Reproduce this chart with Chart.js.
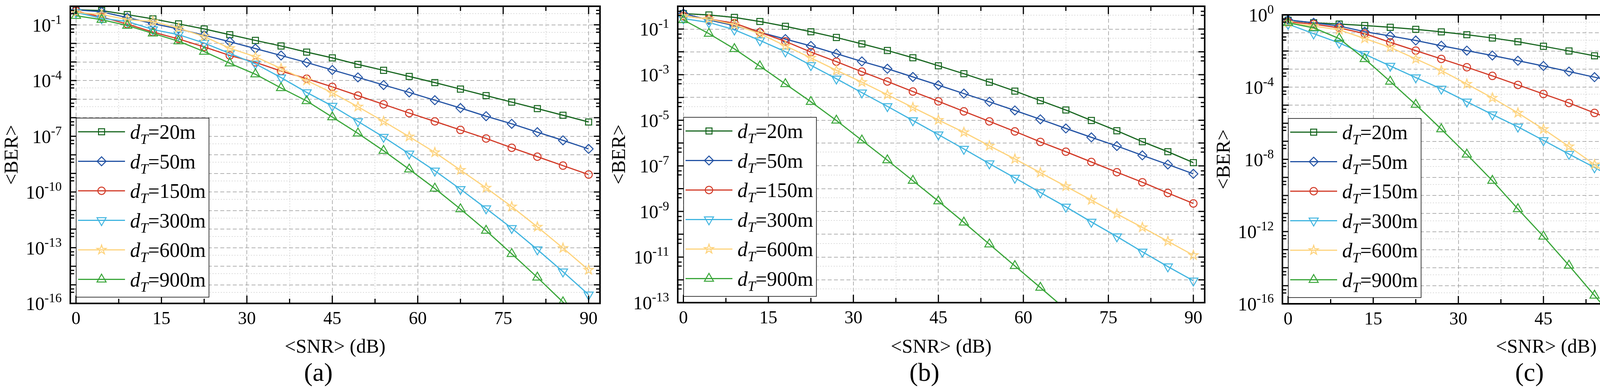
<!DOCTYPE html>
<html>
<head>
<meta charset="utf-8">
<script src="https://cdn.jsdelivr.net/npm/chart.js@4.4.1/dist/chart.umd.min.js"></script>
<style>
  html, body { margin: 0; padding: 0; background: #fff; }
  body { width: 4650px; height: 1000px; position: relative; overflow: hidden; }
  canvas { position: absolute; top: 0; }
</style>
</head>
<body>
<canvas id="panelA" width="1560" height="1000" style="left:0px"></canvas>
<canvas id="panelB" width="1555" height="1000" style="left:1555px"></canvas>
<canvas id="panelC" width="1547" height="1000" style="left:3103px"></canvas>
<script>
// <SNR> in dB, same grid for all panels
const snr = [0, 4.5, 9, 13.5, 18, 22.5, 27, 31.5, 36, 40.5, 45, 49.5, 54, 58.5, 63, 67.5, 72, 76.5, 81, 85.5, 90];
const distances = [20, 50, 150, 300, 600, 900];
const xTickLabels = [0, 15, 30, 45, 60, 75, 90];

// log10(<BER>), panel (a)
const a20  = [-0.19, -0.23, -0.45, -0.68, -0.95, -1.22, -1.53, -1.84, -2.14, -2.47, -2.78, -3.13, -3.45, -3.78, -4.11, -4.46, -4.81, -5.16, -5.51, -5.87, -6.23];
const a50  = [-0.19, -0.30, -0.61, -0.93, -1.22, -1.56, -1.91, -2.28, -2.65, -3.03, -3.43, -3.83, -4.24, -4.64, -5.06, -5.48, -5.92, -6.33, -6.78, -7.22, -7.68];
const a150 = [-0.26, -0.58, -0.96, -1.39, -1.76, -2.19, -2.65, -3.02, -3.49, -3.90, -4.34, -4.81, -5.28, -5.75, -6.20, -6.66, -7.12, -7.62, -8.10, -8.58, -9.06];
const a300 = [-0.33, -0.65, -0.82, -1.25, -1.53, -1.98, -2.54, -3.10, -3.84, -4.64, -5.37, -6.20, -7.04, -7.94, -8.86, -9.85, -10.89, -11.95, -13.10, -14.29, -15.53];
const a600 = [-0.33, -0.44, -0.72, -0.82, -1.18, -1.63, -2.26, -2.72, -3.35, -4.00, -4.66, -5.41, -6.20, -7.02, -7.87, -8.82, -9.78, -10.79, -11.88, -13.02, -14.20];
const a900 = [-0.51, -0.72, -1.04, -1.46, -1.88, -2.44, -3.07, -3.66, -4.40, -5.10, -5.97, -6.84, -7.78, -8.78, -9.81, -10.92, -12.08, -13.33, -14.60, -15.93, -17.30];

// panel (b)
const b20  = [-0.32, -0.38, -0.49, -0.67, -0.88, -1.12, -1.37, -1.65, -1.94, -2.26, -2.61, -2.96, -3.33, -3.72, -4.14, -4.55, -5.01, -5.46, -5.94, -6.38, -6.86];
const b50  = [-0.32, -0.60, -0.85, -1.14, -1.44, -1.74, -2.08, -2.42, -2.74, -3.10, -3.46, -3.83, -4.19, -4.57, -4.96, -5.36, -5.75, -6.13, -6.54, -6.94, -7.35];
const b150 = [-0.43, -0.56, -0.74, -1.14, -1.54, -2.01, -2.43, -2.87, -3.30, -3.74, -4.17, -4.61, -5.05, -5.49, -5.95, -6.38, -6.83, -7.28, -7.72, -8.19, -8.65];
const b300 = [-0.54, -0.71, -1.03, -1.50, -1.99, -2.59, -3.18, -3.79, -4.39, -5.01, -5.63, -6.26, -6.90, -7.53, -8.17, -8.80, -9.46, -10.10, -10.77, -11.42, -12.04];
const b600 = [-0.43, -0.56, -0.81, -1.20, -1.74, -2.26, -2.81, -3.33, -3.88, -4.44, -4.99, -5.53, -6.12, -6.70, -7.30, -7.90, -8.50, -9.11, -9.70, -10.31, -10.92];
const b900 = [-0.60, -1.20, -1.87, -2.63, -3.41, -4.19, -5.01, -5.88, -6.75, -7.65, -8.55, -9.48, -10.44, -11.39, -12.34, -13.30, null, null, null, null, null];

// panel (c)
const c20  = [-0.30, -0.44, -0.51, -0.59, -0.69, -0.80, -0.94, -1.10, -1.28, -1.49, -1.74, -2.00, -2.27, -2.57, -2.89, -3.22, -3.59, -3.98, -4.38, -4.79, -5.23];
const c50  = [-0.28, -0.44, -0.62, -0.93, -1.17, -1.42, -1.71, -1.98, -2.25, -2.54, -2.83, -3.14, -3.45, -3.76, -4.07, -4.39, -4.70, -5.01, -5.35, -5.69, -6.01];
const c150 = [-0.39, -0.51, -0.72, -1.04, -1.52, -1.98, -2.44, -2.90, -3.38, -3.88, -4.38, -4.88, -5.43, -5.95, -6.49, -7.04, -7.60, -8.16, -8.73, -9.31, -9.89];
const c300 = [-0.51, -1.04, -1.55, -2.18, -2.83, -3.47, -4.10, -4.81, -5.52, -6.20, -6.95, -7.71, -8.45, -9.23, -9.99, -10.77, -11.56, -12.36, -13.18, -14.01, -14.85];
const c600 = [-0.44, -0.62, -0.83, -1.31, -1.80, -2.44, -3.08, -3.83, -4.60, -5.43, -6.33, -7.29, -8.29, -9.32, -10.43, -11.57, -12.82, -14.09, -15.40, -17.00, null];
const c900 = [-0.44, -0.72, -1.31, -2.44, -3.69, -4.97, -6.33, -7.73, -9.18, -10.75, -12.27, -13.88, -15.54, -17.20, null, null, null, null, null, null, null];

// labelled decades on each y axis
const yLabelExpA = [-1, -4, -7, -10, -13, -16];
const yLabelExpB = [-1, -3, -5, -7, -9, -11, -13];
const yLabelExpC = [0, -4, -8, -12, -16];

const FONT = '"Liberation Serif", "Times New Roman", serif';
const lineColors = ['#17661f', '#2353a4', '#d23a27', '#41b5e0', '#fed37c', '#3aa63a'];

function makeStar(color) {
  const c = document.createElement('canvas');
  c.width = c.height = 34;
  const g = c.getContext('2d');
  g.strokeStyle = color;
  g.lineWidth = 2.5;
  g.beginPath();
  for (let k = 0; k < 10; k++) {
    const rr = k % 2 ? 4.8 : 12.5;
    const ang = -Math.PI / 2 + k * Math.PI / 5;
    const px = 17 + rr * Math.cos(ang), py = 17 + rr * Math.sin(ang);
    if (k) g.lineTo(px, py); else g.moveTo(px, py);
  }
  g.closePath();
  g.stroke();
  return c;
}

const markers = [
  { style: 'rect', r: 11, rot: 0 },
  { style: 'rectRot', r: 11.5, rot: 0 },
  { style: 'circle', r: 9.5, rot: 0 },
  { style: 'triangle', r: 13.5, rot: 180 },
  { style: makeStar(lineColors[4]), r: 11, rot: 0 },
  { style: 'triangle', r: 13.5, rot: 0 }
];

function decadeTicks(minExp) {
  const t = [];
  for (let e = minExp; e <= 0; e++) {
    t.push({ value: parseFloat('1e' + e), kind: 'major', exp: e });
    if (e < 0) {
      t.push({ value: 4 * parseFloat('1e' + e), kind: 'dot', exp: e });
      t.push({ value: 6 * parseFloat('1e' + e), kind: 'minor', exp: e });
    }
  }
  return t;
}

function xTicks() {
  const t = [];
  for (let v = 0; v <= 90; v += 7.5) t.push({ value: v });
  return t;
}

function drawMarker(ctx, ds, x, y) {
  const st = ds.pointStyle, r = ds.pointRadius;
  ctx.save();
  ctx.translate(x, y);
  if (st instanceof HTMLCanvasElement) {
    ctx.drawImage(st, -st.width / 2, -st.height / 2);
    ctx.restore();
    return;
  }
  ctx.rotate((ds.pointRotation || 0) * Math.PI / 180);
  ctx.strokeStyle = ds.pointBorderColor;
  ctx.lineWidth = ds.pointBorderWidth;
  ctx.beginPath();
  if (st === 'circle') ctx.arc(0, 0, r, 0, Math.PI * 2);
  else if (st === 'rect') { const s = r * Math.SQRT1_2; ctx.rect(-s, -s, 2 * s, 2 * s); }
  else if (st === 'rectRot') { ctx.moveTo(0, -r); ctx.lineTo(r, 0); ctx.lineTo(0, r); ctx.lineTo(-r, 0); ctx.closePath(); }
  else if (st === 'triangle') {
    ctx.moveTo(0, -r);
    ctx.lineTo(r * 0.866, r * 0.5);
    ctx.lineTo(-r * 0.866, r * 0.5);
    ctx.closePath();
  }
  ctx.stroke();
  ctx.restore();
}

// frame with inward ticks, 10^n labels, legend box and (a)/(b)/(c) caption
const framePlugin = {
  id: 'berFrame',
  afterDraw(chart, args, opts) {
    const { ctx, chartArea: { left, right, top, bottom }, scales: { x, y } } = chart;
    ctx.save();
    ctx.strokeStyle = '#000';
    ctx.lineWidth = 3;
    ctx.beginPath();
    x.ticks.forEach(t => {
      const px = x.getPixelForValue(t.value);
      const len = xTickLabels.includes(t.value) ? 20 : 12;
      ctx.moveTo(px, bottom); ctx.lineTo(px, bottom - len);
      ctx.moveTo(px, top); ctx.lineTo(px, top + len);
    });
    y.ticks.forEach(t => {
      const py = y.getPixelForValue(t.value);
      const len = t.kind === 'major' ? 16 : 10;
      ctx.moveTo(left, py); ctx.lineTo(left + len, py);
      ctx.moveTo(right, py); ctx.lineTo(right - len, py);
    });
    ctx.stroke();
    ctx.lineWidth = 4;
    ctx.strokeRect(left, top, right - left, bottom - top);

    // y tick labels with a real superscript exponent
    ctx.fillStyle = '#000';
    ctx.textBaseline = 'alphabetic';
    ctx.textAlign = 'left';
    y.ticks.forEach(t => {
      if (t.kind !== 'major' || !opts.labelExps.includes(t.exp)) return;
      const py = y.getPixelForValue(t.value);
      const sup = String(t.exp);
      ctx.font = '33px ' + FONT;
      const supW = ctx.measureText(sup).width;
      ctx.font = '48px ' + FONT;
      const mainW = ctx.measureText('10').width;
      const xr = left - 22;
      ctx.fillText('10', xr - supW - mainW, py + 17);
      ctx.font = '33px ' + FONT;
      ctx.fillText(sup, xr - supW, py - 3);
    });

    // legend
    const bx = left + 15, by = bottom - 474, bw = 340, bh = 458;
    ctx.fillStyle = '#fff';
    ctx.fillRect(bx, by, bw, bh);
    ctx.lineWidth = 1.5;
    ctx.strokeStyle = '#000';
    ctx.strokeRect(bx, by, bw, bh);
    chart.data.datasets.forEach((ds, i) => {
      const yc = bottom - 439 + i * 75.5;
      ctx.strokeStyle = ds.borderColor;
      ctx.lineWidth = ds.borderWidth;
      ctx.beginPath();
      ctx.moveTo(left + 20, yc); ctx.lineTo(left + 140, yc);
      ctx.stroke();
      drawMarker(ctx, ds, left + 80, yc);
      const tx = left + 153;
      ctx.fillStyle = '#000';
      ctx.textAlign = 'left';
      ctx.textBaseline = 'alphabetic';
      ctx.font = 'italic 52px ' + FONT;
      ctx.fillText('d', tx, yc + 18);
      ctx.font = 'italic 36px ' + FONT;
      ctx.fillText('T', tx + 26, yc + 31);
      ctx.font = '52px ' + FONT;
      ctx.fillText('=' + distances[i] + 'm', tx + 46, yc + 18);
    });

    // caption
    ctx.fillStyle = '#000';
    ctx.font = '66px ' + FONT;
    ctx.textAlign = 'center';
    ctx.textBaseline = 'middle';
    ctx.fillText(opts.caption, (left + right) / 2 - 43, 957);
    ctx.restore();
  }
};

function buildPanel(id, p) {
  const datasets = distances.map((d, i) => ({
    label: 'dT=' + d + 'm',
    data: snr.map((sx, k) => ({ x: sx, y: p.series[i][k] == null ? null : Math.pow(10, p.series[i][k]) })),
    borderColor: lineColors[i],
    borderWidth: 3,
    pointStyle: markers[i].style,
    pointRadius: markers[i].r,
    pointRotation: markers[i].rot,
    pointBorderColor: lineColors[i],
    pointBackgroundColor: 'rgba(0,0,0,0)',
    pointBorderWidth: 2.5,
    fill: false,
    tension: 0,
    order: 5 - i
  }));

  const gridColorY = c => c.tick.kind === 'major' ? '#9a9a9a' : (c.tick.kind === 'dot' ? '#d2d2d2' : 'rgba(0,0,0,0)');
  const gridDashY = c => c.tick.kind === 'major' ? [10, 6] : [3, 4];
  const isMajorX = v => xTickLabels.includes(v);

  return new Chart(document.getElementById(id), {
    type: 'line',
    data: { datasets },
    plugins: [framePlugin],
    options: {
      responsive: false,
      animation: false,
      devicePixelRatio: 1,
      events: [],
      layout: { padding: { left: 0, top: p.top, right: p.padRight, bottom: 81 } },
      plugins: {
        legend: { display: false },
        tooltip: { enabled: false },
        berFrame: { caption: p.caption, labelExps: p.labelExps }
      },
      scales: {
        x: {
          type: 'linear',
          min: -1,
          max: 92,
          afterBuildTicks: s => { s.ticks = xTicks(); },
          afterFit: s => { s.height = p.xHeight; s.paddingLeft = 0; s.paddingRight = 0; },
          ticks: {
            autoSkip: false,
            maxRotation: 0,
            padding: 13,
            color: '#000',
            font: { family: FONT, size: 46 },
            callback: v => isMajorX(v) ? String(v) : ''
          },
          grid: {
            drawTicks: false,
            lineWidth: 1.5,
            color: c => isMajorX(c.tick.value) ? '#9a9a9a' : '#d2d2d2'
          },
          border: { display: false, dash: c => isMajorX(c.tick.value) ? [10, 6] : [3, 4] },
          title: {
            display: true,
            text: '<SNR> (dB)',
            color: '#000',
            font: { family: FONT, size: 50 },
            padding: { top: 0, bottom: 0 }
          }
        },
        y: {
          type: 'logarithmic',
          min: parseFloat('1e' + p.minExp),
          max: 1,
          afterBuildTicks: s => { s.ticks = decadeTicks(p.minExp); },
          afterFit: s => { s.width = 180; s.paddingTop = 0; s.paddingBottom = 0; },
          ticks: { display: false, autoSkip: false },
          grid: { drawTicks: false, lineWidth: 1.5, color: gridColorY },
          border: { display: false, dash: gridDashY },
          title: {
            display: true,
            text: '<BER>',
            color: '#000',
            font: { family: FONT, size: 50 },
            padding: { top: 2, bottom: 0 }
          }
        }
      }
    }
  });
}

buildPanel('panelA', {
  series: [a20, a50, a150, a300, a600, a900],
  minExp: -16, labelExps: yLabelExpA, caption: '(a)',
  top: 14, padRight: 24, xHeight: 143
});
buildPanel('panelB', {
  series: [b20, b50, b150, b300, b600, b900],
  minExp: -13, labelExps: yLabelExpB, caption: '(b)',
  top: 14, padRight: 26, xHeight: 145
});
buildPanel('panelC', {
  series: [c20, c50, c150, c300, c600, c900],
  minExp: -16, labelExps: yLabelExpC, caption: '(c)',
  top: 38, padRight: 14, xHeight: 142
});
</script>
</body>
</html>
